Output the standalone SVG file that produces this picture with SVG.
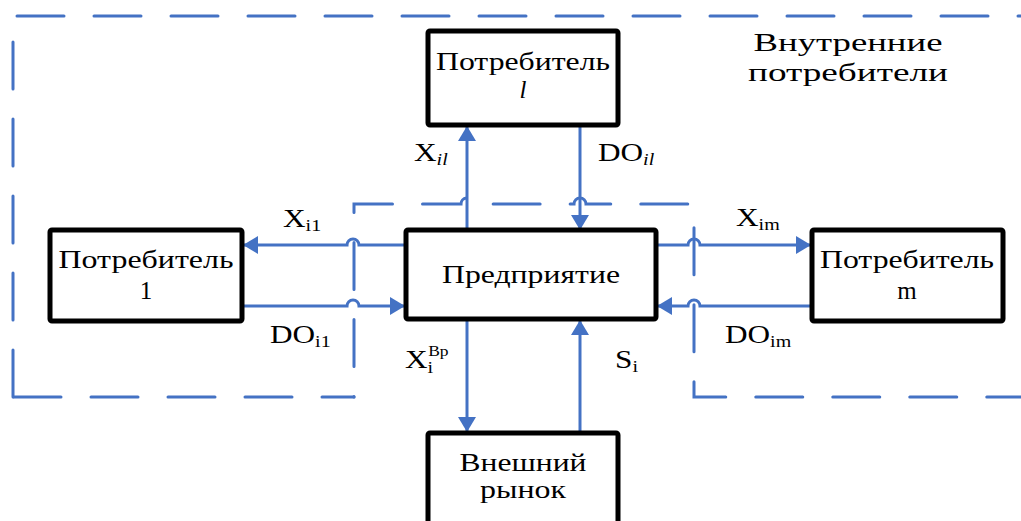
<svg xmlns="http://www.w3.org/2000/svg" width="1021" height="521" viewBox="0 0 1021 521">
<style>
.box{fill:#fff;stroke:#000;stroke-width:5;}
.t{font-family:"Liberation Serif","DejaVu Serif","Noto Serif",serif;font-size:25px;fill:#000;}
.lbl{font-family:"Liberation Serif","DejaVu Serif","Noto Serif",serif;font-size:25px;fill:#000;}
.sub{font-size:16px;}
.dash{fill:none;stroke:#4472C4;stroke-width:3;stroke-dasharray:47 30;stroke-linecap:round;}
.ln{fill:none;stroke:#4472C4;stroke-width:3;}
</style>
<defs>
<marker id="ah" markerUnits="userSpaceOnUse" markerWidth="16" markerHeight="18" refX="15" refY="9" orient="auto">
<path d="M0,0 L15,9 L0,18 z" fill="#4472C4"/>
</marker>
</defs>
<rect width="1021" height="521" fill="#fff"/>

<g id="boundaries">
<path class="dash" d="M17,16 H1021"/>
<path class="dash" d="M13,42 V397"/>
<path class="dash" d="M14,397 H354"/>
<path class="dash" style="stroke-dashoffset:46.5" d="M354,397 V204 H461 A6,6 0 0 1 473,204 H574 A6,6 0 0 1 586,204 H694 V397 H1021"/>
</g>

<g id="connectors">
<path class="ln" marker-end="url(#ah)" d="M405,245 H359 A6,6 0 0 0 347,245 H243"/>
<path class="ln" marker-end="url(#ah)" d="M243,306 H347 A6,6 0 0 1 359,306 H405"/>
<path class="ln" marker-end="url(#ah)" d="M657,245 H688 A6,6 0 0 1 700,245 H811"/>
<path class="ln" marker-end="url(#ah)" d="M811,306 H700 A6,6 0 0 0 688,306 H657"/>
<path class="ln" marker-end="url(#ah)" d="M467,230 V126"/>
<path class="ln" marker-end="url(#ah)" d="M580,126 V230"/>
<path class="ln" marker-end="url(#ah)" d="M467,320 V432"/>
<path class="ln" marker-end="url(#ah)" d="M580,432 V320"/>
</g>

<g id="consumer-l">
<rect class="box" x="428" y="31" width="190" height="94" rx="2"/>
<text class="t" x="523" y="70" text-anchor="middle" textLength="174" lengthAdjust="spacingAndGlyphs">Потребитель</text>
<text class="t" x="523" y="98" text-anchor="middle" font-style="italic">l</text>
</g>

<g id="enterprise">
<rect class="box" x="406" y="230" width="250" height="89" rx="2"/>
<text class="t" x="531" y="283" text-anchor="middle" textLength="178" lengthAdjust="spacingAndGlyphs">Предприятие</text>
</g>

<g id="consumer-1">
<rect class="box" x="50" y="230" width="192" height="91" rx="2"/>
<text class="t" x="146" y="268" text-anchor="middle" textLength="175" lengthAdjust="spacingAndGlyphs">Потребитель</text>
<text class="t" x="146" y="299" text-anchor="middle">1</text>
</g>

<g id="consumer-m">
<rect class="box" x="812" y="230" width="191" height="91" rx="2"/>
<text class="t" x="907" y="268" text-anchor="middle" textLength="174" lengthAdjust="spacingAndGlyphs">Потребитель</text>
<text class="t" x="907" y="299" text-anchor="middle">m</text>
</g>

<g id="external-market">
<rect class="box" x="428" y="433" width="190" height="100" rx="2"/>
<text class="t" x="523" y="471" text-anchor="middle" textLength="127" lengthAdjust="spacingAndGlyphs">Внешний</text>
<text class="t" x="523" y="498" text-anchor="middle" textLength="86" lengthAdjust="spacingAndGlyphs">рынок</text>
</g>

<g id="internal-label">
<text class="t" x="848" y="51" text-anchor="middle" textLength="189" lengthAdjust="spacingAndGlyphs">Внутренние</text>
<text class="t" x="848" y="81" text-anchor="middle" textLength="200" lengthAdjust="spacingAndGlyphs">потребители</text>
</g>

<g id="labels">
<text class="lbl" transform="translate(414,161) scale(1.25,1)">X<tspan class="sub" font-style="italic" dy="4">il</tspan></text>
<text class="lbl" transform="translate(598,161) scale(1.25,1)">DO<tspan class="sub" font-style="italic" dy="4">il</tspan></text>
<text class="lbl" transform="translate(283,227) scale(1.25,1)">X<tspan class="sub" dy="4">i1</tspan></text>
<text class="lbl" transform="translate(270,343) scale(1.25,1)">DO<tspan class="sub" dy="4">i1</tspan></text>
<text class="lbl" transform="translate(736,226) scale(1.25,1)">X<tspan class="sub" dy="4">im</tspan></text>
<text class="lbl" transform="translate(725,343) scale(1.25,1)">DO<tspan class="sub" dy="4">im</tspan></text>
<text class="lbl" transform="translate(405,368) scale(1.25,1)">X<tspan class="sub" dy="5">i</tspan><tspan font-size="14px" dx="-4" dy="-17">Вр</tspan></text>
<text class="lbl" transform="translate(615,368) scale(1.25,1)">S<tspan class="sub" dy="4">i</tspan></text>
</g>
</svg>
